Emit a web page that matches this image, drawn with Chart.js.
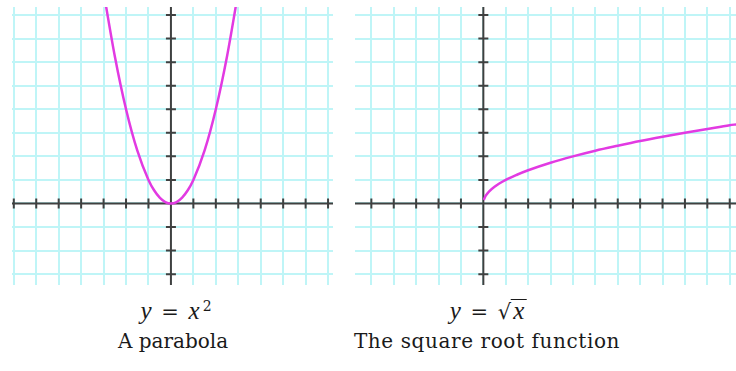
<!DOCTYPE html>
<html>
<head>
<meta charset="utf-8">
<script src="https://cdn.jsdelivr.net/npm/chart.js@4.4.1/dist/chart.umd.min.js"></script>
<style>
    body { margin: 0; width: 736px; height: 371px; background: #fff; position: relative; overflow: hidden; }
    .plot { position: absolute; top: 7px; height: 278px; }
    #leftPlot { left: 12px; width: 321px; }
    #rightPlot { left: 355px; width: 381px; }
    .caption { position: absolute; font-family: "DejaVu Serif", serif; color: #1a1a1a; white-space: nowrap; transform: translateX(-50%); }
    .formula { top: 297px; font-size: 21px; word-spacing: 3px; }
    .name { top: 329px; font-size: 20px; }
    .formula i { font-family: "Liberation Serif", serif; font-size: 25px; }
    .root { border-top: 1.5px solid #1a1a1a; padding: 0 2px; }
</style>
</head>
<body>
<div class="plot" id="leftPlot"><canvas id="parabolaChart"></canvas></div>
<div class="plot" id="rightPlot"><canvas id="rootChart"></canvas></div>

<div class="caption formula" style="left:176px"><i>y</i> = <i>x</i><sup style="font-size:14px;margin-left:3px">2</sup></div>
<div class="caption name" style="left:173px">A parabola</div>
<div class="caption formula" style="left:488px"><i>y</i> = √<span class="root"><i>x</i></span></div>
<div class="caption name" style="left:487px;letter-spacing:0.6px">The square root function</div>

<script>
// y = x^2
const parabolaX = [-2.95, -2.5, -2, -1.5, -1, -0.75, -0.5, -0.25, 0, 0.25, 0.5, 0.75, 1, 1.5, 2, 2.5, 2.95];
const parabolaY = [8.7, 6.25, 4, 2.25, 1, 0.56, 0.25, 0.06, 0, 0.06, 0.25, 0.56, 1, 2.25, 4, 6.25, 8.7];

// y = sqrt(x)
const rootX = [0.02, 0.1, 0.25, 0.5, 1, 1.5, 2, 3, 4, 5, 6, 7, 8, 9, 10, 11, 11.3];
const rootY = [0.15, 0.32, 0.5, 0.71, 1, 1.22, 1.41, 1.73, 2, 2.24, 2.45, 2.65, 2.83, 3, 3.16, 3.32, 3.36];

// visible window of each graph, in units
const leftRange = { xMin: -7.08, xMax: 7.22, yMin: -3.46, yMax: 8.34 };
const rightRange = { xMin: -5.73, xMax: 11.28, yMin: -3.46, yMax: 8.34 };

const gridColor = '#bff5f7';
const axisColor = '#404040';
const curveColor = '#e23ae2';

// axes through the origin with crossing tick marks
const originAxes = {
    id: 'originAxes',
    beforeDatasetsDraw(chart) {
        const { ctx, chartArea: a, scales: { x, y } } = chart;
        const x0 = x.getPixelForValue(0);
        const y0 = y.getPixelForValue(0);
        ctx.save();
        ctx.strokeStyle = axisColor;
        ctx.lineWidth = 2;
        ctx.beginPath();
        ctx.moveTo(a.left, y0);
        ctx.lineTo(a.right, y0);
        ctx.moveTo(x0, a.top);
        ctx.lineTo(x0, a.bottom);
        x.ticks.forEach(t => {
            if (t.value === 0) return;
            const px = x.getPixelForValue(t.value);
            ctx.moveTo(px, y0 - 5);
            ctx.lineTo(px, y0 + 5);
        });
        y.ticks.forEach(t => {
            if (t.value === 0) return;
            const py = y.getPixelForValue(t.value);
            ctx.moveTo(x0 - 5, py);
            ctx.lineTo(x0 + 5, py);
        });
        ctx.stroke();
        ctx.restore();
    }
};

function unitScale(min, max) {
    return {
        type: 'linear',
        min: min,
        max: max,
        ticks: { display: false, stepSize: 1, includeBounds: false },
        afterBuildTicks: (scale) => {
            scale.ticks = scale.ticks.filter(t => Number.isInteger(t.value));
        },
        grid: { color: gridColor, lineWidth: 2, drawTicks: false },
        border: { display: false }
    };
}

function makeGraph(canvasId, xs, ys, range) {
    const points = xs.map((v, i) => ({ x: v, y: ys[i] }));
    return new Chart(document.getElementById(canvasId), {
        type: 'scatter',
        data: {
            datasets: [{
                data: points,
                showLine: true,
                borderColor: curveColor,
                borderWidth: 2.5,
                pointRadius: 0,
                cubicInterpolationMode: 'monotone'
            }]
        },
        options: {
            responsive: true,
            maintainAspectRatio: false,
            animation: false,
            layout: { padding: 0 },
            plugins: { legend: { display: false }, tooltip: { enabled: false } },
            scales: {
                x: unitScale(range.xMin, range.xMax),
                y: unitScale(range.yMin, range.yMax)
            }
        },
        plugins: [originAxes]
    });
}

makeGraph('parabolaChart', parabolaX, parabolaY, leftRange);
makeGraph('rootChart', rootX, rootY, rightRange);
</script>
</body>
</html>
